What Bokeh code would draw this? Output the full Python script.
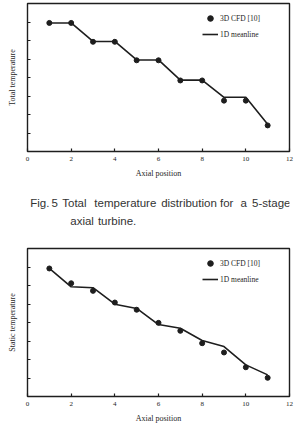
from bokeh.plotting import figure
from bokeh.layouts import column
from bokeh.models import FixedTicker, Legend, LegendItem
from bokeh.core.properties import value
from bokeh.embed import file_html
from bokeh.resources import INLINE

axial = [1, 2, 3, 4, 5, 6, 7, 8, 9, 10, 11]
total_cfd = [6.95, 6.95, 5.93, 5.93, 4.93, 4.93, 3.84, 3.84, 2.75, 2.75, 1.41]
total_1d = [6.95, 6.95, 5.95, 5.95, 4.95, 4.95, 3.86, 3.86, 2.93, 2.93, 1.47]
static_cfd = [6.92, 6.12, 5.71, 5.08, 4.69, 3.98, 3.55, 2.88, 2.38, 1.58, 1.01]
static_1d = [6.92, 5.93, 5.88, 4.99, 4.76, 3.89, 3.69, 3.03, 2.70, 1.71, 1.17]
x_ticks = [0, 2, 4, 6, 8, 10, 12]
y_ticks = [0, 1, 2, 3, 4, 5, 6, 7, 8]

caption1 = ["Fig.", "5", "Total", "temperature", "distribution", "for", "a", "5-stage"]
caption1_x = [3, 27, 39, 75, 150, 216, 239, 252]
caption2 = ["axial", "turbine."]
caption2_x = [48, 79]

SERIF = "Liberation Serif"
INK = "#1e1e1e"


def make_plot(ylabel, cfd, mean, height, top, bottom):
    p = figure(width=294, height=height, output_backend="svg", toolbar_location=None,
               x_range=(0, 12), y_range=(0, 8),
               min_border_left=27, min_border_right=5,
               min_border_top=top, min_border_bottom=bottom)
    p.grid.visible = False
    p.outline_line_color = INK
    p.outline_line_width = 1.4
    p.background_fill_color = "white"
    p.border_fill_color = "white"

    p.xaxis.ticker = FixedTicker(ticks=x_ticks)
    p.xaxis.axis_label = "Axial position"
    p.yaxis.ticker = FixedTicker(ticks=y_ticks)
    p.yaxis.major_label_overrides = {t: "" for t in y_ticks}
    p.yaxis.axis_label = ylabel
    for ax in (p.xaxis, p.yaxis):
        ax.axis_line_color = None
        ax.major_tick_in = 3
        ax.major_tick_out = 0
        ax.major_tick_line_color = INK
        ax.major_tick_line_width = 1.2
        ax.minor_tick_line_color = None
        ax.major_label_text_font = SERIF
        ax.major_label_text_font_size = "7px"
        ax.major_label_text_color = INK
        ax.axis_label_text_font = SERIF
        ax.axis_label_text_font_size = "8px"
        ax.axis_label_text_font_style = "normal"
        ax.axis_label_text_color = INK
    p.xaxis.major_label_standoff = 5
    p.xaxis.axis_label_standoff = 5
    p.yaxis.major_label_standoff = 0
    p.yaxis.axis_label_standoff = 11

    r_pts = p.scatter(axial, cfd, size=5, color=INK)
    r_line = p.line(axial, mean, line_width=1.6, color=INK)

    legend = Legend(items=[LegendItem(label="3D CFD [10]", renderers=[r_pts]),
                           LegendItem(label="1D meanline", renderers=[r_line])],
                    location=(175, 110))
    legend.border_line_color = None
    legend.background_fill_alpha = 0
    legend.padding = 0
    legend.margin = 0
    legend.spacing = 2
    legend.glyph_width = 16
    legend.glyph_height = 14
    legend.label_height = 14
    legend.label_standoff = 2
    legend.label_text_font = SERIF
    legend.label_text_font_size = "7.5px"
    legend.label_text_color = INK
    p.add_layout(legend, "center")
    return p


top = make_plot("Total temperature", total_cfd, total_1d, 182, 3, 31)

cap = figure(width=294, height=48, output_backend="svg", toolbar_location=None,
             x_range=(0, 294), y_range=(48, 0), min_border=0)
cap.axis.visible = False
cap.grid.visible = False
cap.outline_line_color = None
cap.text(caption1_x, [20] * len(caption1), text=caption1, text_font=value("Liberation Sans"),
         text_font_size="11.5px", text_color="#333333", text_baseline="alphabetic")
cap.text(caption2_x, [38] * len(caption2), text=caption2, text_font=value("Liberation Sans"),
         text_font_size="11.5px", text_color="#333333", text_baseline="alphabetic")

bottom = make_plot("Static temperature", static_cfd, static_1d, 200, 18, 34)

layout = column(top, cap, bottom, spacing=0)
open("out.html", "w").write(file_html(layout, INLINE))
